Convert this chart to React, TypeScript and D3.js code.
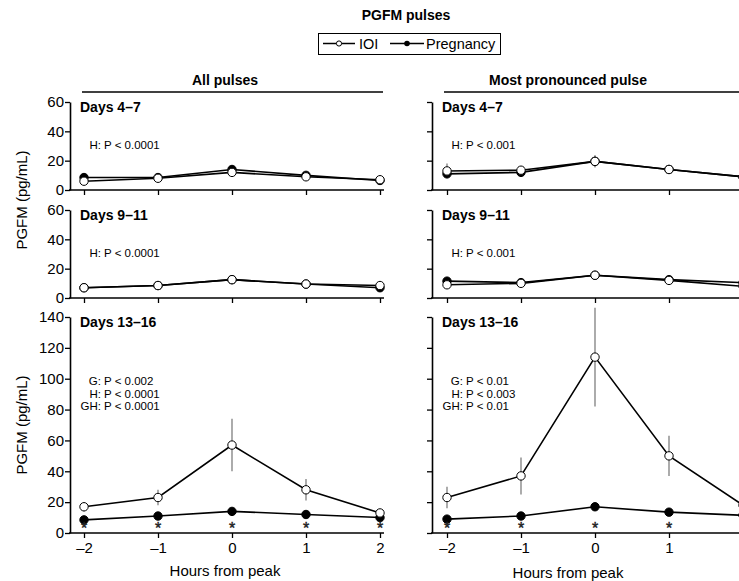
import React, { useEffect, useRef } from 'react';
import * as d3 from 'd3';

const W = 739;
const H = 581;

const hours = [-2, -1, 0, 1, 2];
const hourLabels = ['\u20132', '\u20131', '0', '1', '2'];
const smallTicks = [0, 20, 40, 60];
const bigTicks = [0, 20, 40, 60, 80, 100, 120, 140];

// All pulses
const allD4Ioi = [6, 8, 12, 9, 7];
const allD4Preg = [8.5, 8.5, 14, 10, 6.5];
const allD9Ioi = [7, 8.5, 12.5, 9.5, 8.5];
const allD9Preg = [7, 8.5, 12.5, 9.5, 7];
const allD13Ioi = [17, 23, 57, 28, 13];
const allD13IoiErr = [3, 5, 17, 7, 1];
const allD13Preg = [8.5, 11, 14, 12, 10];

// Most pronounced pulse
const mostD4Ioi = [13, 13.5, 19.5, 14, 9];
const mostD4IoiErr = [5, 2, 4, 1, 1];
const mostD4Preg = [11, 12, 19.5, 14, 9];
const mostD4PregErr = [2, 1, 4, 1, 1];
const mostD9Ioi = [9, 10, 15.5, 12, 8];
const mostD9Preg = [11.5, 10.5, 15.5, 12.5, 10.5];
const mostD13Ioi = [23, 37, 114, 50, 18];
const mostD13IoiErr = [7, 12, 32, 13, 3];
const mostD13Preg = [9, 11, 17, 13.5, 11.5];
const mostD13PregErr = [1, 1, 2, 1, 1];

const font = 'Liberation Sans, Arial, sans-serif';

type Panel = {
  col: number;
  top: number;
  bottom: number;
  max: number;
  ticks: number[];
  title: string;
  stats: [string, string][];
  ioi: number[];
  ioiErr?: number[];
  preg: number[];
  pregErr?: number[];
  stars?: boolean;
  xLabels?: boolean;
};

const panels: Panel[] = [
  { col: 0, top: 102, bottom: 190, max: 60, ticks: smallTicks, title: 'Days 4\u20137',
    stats: [['H:', 'P < 0.0001']], ioi: allD4Ioi, preg: allD4Preg },
  { col: 0, top: 210, bottom: 298, max: 60, ticks: smallTicks, title: 'Days 9\u201311',
    stats: [['H:', 'P < 0.0001']], ioi: allD9Ioi, preg: allD9Preg },
  { col: 0, top: 317, bottom: 533, max: 140, ticks: bigTicks, title: 'Days 13\u201316',
    stats: [['G:', 'P < 0.002'], ['H:', 'P < 0.0001'], ['GH:', 'P < 0.0001']],
    ioi: allD13Ioi, ioiErr: allD13IoiErr, preg: allD13Preg, stars: true, xLabels: true },
  { col: 1, top: 102, bottom: 190, max: 60, ticks: smallTicks, title: 'Days 4\u20137',
    stats: [['H:', 'P < 0.001']], ioi: mostD4Ioi, ioiErr: mostD4IoiErr, preg: mostD4Preg, pregErr: mostD4PregErr },
  { col: 1, top: 210, bottom: 298, max: 60, ticks: smallTicks, title: 'Days 9\u201311',
    stats: [['H:', 'P < 0.001']], ioi: mostD9Ioi, preg: mostD9Preg },
  { col: 1, top: 317, bottom: 533, max: 140, ticks: bigTicks, title: 'Days 13\u201316',
    stats: [['G:', 'P < 0.01'], ['H:', 'P < 0.003'], ['GH:', 'P < 0.01']],
    ioi: mostD13Ioi, ioiErr: mostD13IoiErr, preg: mostD13Preg, pregErr: mostD13PregErr, stars: true, xLabels: true },
];

const cols = [
  { axisX: 70, x0: 84, x1: 380, head: 'All pulses', headX: 225, ruleX0: 82, ruleX1: 383, colonX: 101, labelX: true, hoursX: 225, hoursY: 576 },
  { axisX: 432, x0: 447, x1: 743, head: 'Most pronounced pulse', headX: 568, ruleX0: 444, ruleX1: 745, colonX: 463, labelX: false, hoursX: 568, hoursY: 578 },
];

export default function App() {
  const ref = useRef<SVGSVGElement>(null);

  useEffect(() => {
    document.body.style.margin = '0';
    const svg = d3.select(ref.current);
    svg.selectAll('*').remove();

    svg.append('text').attr('x', 406).attr('y', 20).attr('text-anchor', 'middle')
      .attr('font-weight', 'bold').attr('font-size', 14).text('PGFM pulses');

    // legend
    const lg = svg.append('g');
    lg.append('rect').attr('x', 318.5).attr('y', 33.5).attr('width', 182).attr('height', 21)
      .attr('fill', 'none').attr('stroke', '#000').attr('stroke-width', 1);
    lg.append('line').attr('x1', 323).attr('x2', 355).attr('y1', 43.5).attr('y2', 43.5).attr('stroke', '#000').attr('stroke-width', 1.5);
    lg.append('circle').attr('cx', 339).attr('cy', 43.5).attr('r', 2.6).attr('fill', '#fff').attr('stroke', '#000');
    lg.append('text').attr('x', 359).attr('y', 49).attr('font-size', 14.5).text('IOI');
    lg.append('line').attr('x1', 390).attr('x2', 424).attr('y1', 43.5).attr('y2', 43.5).attr('stroke', '#000').attr('stroke-width', 1.5);
    lg.append('circle').attr('cx', 407).attr('cy', 43.5).attr('r', 2.8).attr('fill', '#000');
    lg.append('text').attr('x', 426).attr('y', 49).attr('font-size', 14.5).text('Pregnancy');

    cols.forEach((c) => {
      svg.append('text').attr('x', c.headX).attr('y', 85).attr('text-anchor', 'middle')
        .attr('font-weight', 'bold').attr('font-size', 14).text(c.head);
      svg.append('line').attr('x1', c.ruleX0).attr('x2', c.ruleX1).attr('y1', 92).attr('y2', 92)
        .attr('stroke', '#000').attr('stroke-width', 1.5);
      svg.append('text').attr('x', c.hoursX).attr('y', c.hoursY).attr('text-anchor', 'middle')
        .attr('font-size', 15).text('Hours from peak');
    });

    // y labels
    svg.append('text').attr('transform', 'translate(27,200) rotate(-90)').attr('text-anchor', 'middle')
      .attr('font-size', 15).text('PGFM (pg/mL)');
    svg.append('text').attr('transform', 'translate(27,425) rotate(-90)').attr('text-anchor', 'middle')
      .attr('font-size', 15).text('PGFM (pg/mL)');

    panels.forEach((p) => {
      const c = cols[p.col];
      const x = d3.scaleLinear().domain([-2, 2]).range([c.x0, c.x1]);
      const y = d3.scaleLinear().domain([0, p.max]).range([p.bottom, p.top]);
      const g = svg.append('g');

      // y axis
      const ya = g.append('g').attr('transform', `translate(${c.axisX},0)`)
        .call(d3.axisLeft(y).tickValues(p.ticks).tickSize(5).tickSizeOuter(0)
          .tickFormat((d) => (c.labelX ? String(d) : '')));
      ya.select('.domain').attr('stroke-width', 1.6);
      ya.selectAll('.tick line').attr('stroke-width', 1.3);
      ya.selectAll('.tick text').attr('font-size', 15).attr('font-family', font).attr('fill', '#000').attr('x', -6);

      // x axis
      const xa = g.append('g').attr('transform', `translate(0,${p.bottom})`)
        .call(d3.axisBottom(x).tickValues(hours).tickSize(5)
          .tickFormat((d, i) => (p.xLabels ? hourLabels[i] : '')));
      xa.select('.domain').remove();
      xa.selectAll('.tick line').attr('stroke-width', 1.3);
      xa.selectAll('.tick text').attr('font-size', 15).attr('font-family', font).attr('fill', '#000').attr('y', 9);
      g.append('line').attr('x1', c.axisX - 1).attr('x2', c.x1 + 4).attr('y1', p.bottom).attr('y2', p.bottom)
        .attr('stroke', '#000').attr('stroke-width', 1.6);

      g.append('text').attr('x', c.axisX + 10).attr('y', p.top + 10).attr('font-weight', 'bold')
        .attr('font-size', 14).text(p.title);

      const statY = p.max > 60 ? p.top + 68 : p.top + 47;
      p.stats.forEach((s, i) => {
        g.append('text').attr('y', statY + i * 12.5).attr('font-size', 11.5).attr('x', c.colonX)
          .attr('text-anchor', 'end').text(s[0]);
        g.append('text').attr('y', statY + i * 12.5).attr('font-size', 11.5).attr('x', c.colonX + 3).text(s[1]);
      });

      const line = d3.line<number>().x((_, i) => x(hours[i])).y((d) => y(d));
      const series = [
        { v: p.preg, e: p.pregErr, fill: '#000', r: 4.2 },
        { v: p.ioi, e: p.ioiErr, fill: '#fff', r: 4.2 },
      ];
      series.forEach((s) => {
        if (s.e) {
          g.append('g').selectAll('line').data(s.v).join('line')
            .attr('x1', (_, i) => x(hours[i])).attr('x2', (_, i) => x(hours[i]))
            .attr('y1', (d, i) => y(d + s.e![i])).attr('y2', (d, i) => y(d - s.e![i]))
            .attr('stroke', '#888').attr('stroke-width', 1.4);
        }
      });
      series.forEach((s) => {
        g.append('path').attr('d', line(s.v)).attr('fill', 'none').attr('stroke', '#000').attr('stroke-width', 1.6);
      });
      series.forEach((s) => {
        g.append('g').selectAll('circle').data(s.v).join('circle')
          .attr('cx', (_, i) => x(hours[i])).attr('cy', (d) => y(d)).attr('r', s.r)
          .attr('fill', s.fill).attr('stroke', '#000').attr('stroke-width', 1);
      });
      if (p.stars) {
        g.append('g').selectAll('text').data(hours).join('text')
          .attr('x', (d) => x(d)).attr('y', p.bottom + 1).attr('text-anchor', 'middle')
          .attr('font-size', 16).attr('fill', '#222').attr('stroke', '#222').attr('stroke-width', 0.4).text('*');
      }
    });
  }, []);

  return (
    <svg ref={ref} width={W} height={H} style={{ display: 'block', fontFamily: font, overflow: 'hidden' }} fontFamily={font} />
  );
}
